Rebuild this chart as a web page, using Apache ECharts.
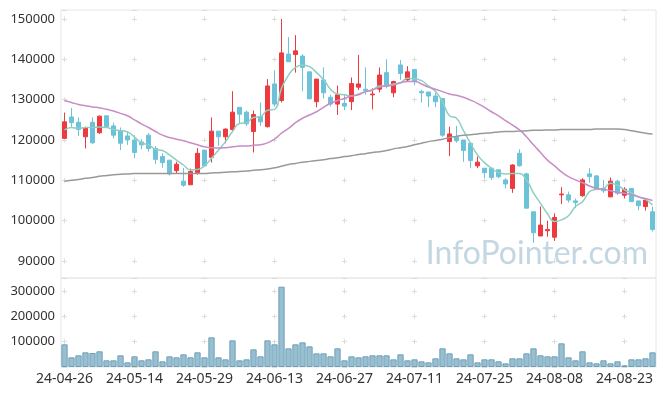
<!DOCTYPE html>
<html>
<head>
<meta charset="utf-8">
<script src="https://cdn.jsdelivr.net/npm/echarts@6/dist/echarts.min.js"></script>
<style>
html,body{margin:0;padding:0;background:#fff;}
#chart{width:665px;height:396px;}
</style>
</head>
<body>
<div id="chart"></div>
<script>
const dates = ['24-04-26','24-04-29','24-04-30','24-05-02','24-05-03','24-05-07','24-05-08','24-05-09','24-05-10','24-05-13',
'24-05-14','24-05-16','24-05-17','24-05-20','24-05-21','24-05-22','24-05-23','24-05-24','24-05-27','24-05-28',
'24-05-29','24-05-30','24-05-31','24-06-03','24-06-04','24-06-05','24-06-07','24-06-10','24-06-11','24-06-12',
'24-06-13','24-06-14','24-06-17','24-06-18','24-06-19','24-06-20','24-06-21','24-06-24','24-06-25','24-06-26',
'24-06-27','24-06-28','24-07-01','24-07-02','24-07-03','24-07-04','24-07-05','24-07-08','24-07-09','24-07-10',
'24-07-11','24-07-12','24-07-15','24-07-16','24-07-17','24-07-18','24-07-19','24-07-22','24-07-23','24-07-24',
'24-07-25','24-07-26','24-07-29','24-07-30','24-07-31','24-08-01','24-08-02','24-08-05','24-08-06','24-08-07',
'24-08-08','24-08-09','24-08-12','24-08-13','24-08-14','24-08-16','24-08-19','24-08-20','24-08-21','24-08-22',
'24-08-23','24-08-26','24-08-27','24-08-28','24-08-29'];

const openP = [120400,125700,124400,120800,124400,121800,126000,123500,122300,121000,
120000,119500,121200,117900,115900,115000,112400,109800,108900,111900,
117500,115700,122200,120800,122600,128100,126900,122100,125800,123300,
133900,129800,141300,141200,140800,136900,129500,134900,130600,128900,
129100,129500,133100,132600,131200,132600,136700,131700,138600,134900,
137500,132000,131900,130900,130300,119600,120800,120000,119200,113600,
113000,113000,112600,110100,108000,116700,111600,102200,96200,97500,
95900,106400,106400,104900,106200,111600,111100,108000,105900,109800,
106300,108000,104900,103500,102200];
const closeP = [124500,124300,122600,123000,119300,125900,123300,121200,119200,120000,
116900,118800,117900,115200,114400,111600,114000,108800,112200,116700,
113600,122200,120800,122700,126900,126400,124000,126300,124500,133400,
128900,141600,139400,142100,138000,130200,135100,131700,128900,131200,
128400,134000,133900,132300,131400,136100,133400,134500,136500,136900,
134500,131700,130900,129500,121200,121500,119800,117400,114900,114500,
111900,110700,110900,109100,113800,113600,103100,97000,98900,97800,
100800,106600,105100,104500,110100,110900,107800,107400,109800,106800,
107800,104700,103700,105100,97800];
const lowP = [120400,123100,121000,117900,119000,121500,123100,120400,117500,118800,
115500,117700,117100,114000,113100,111200,111700,108400,108900,111400,
113400,114400,118500,119200,122300,124000,123500,116900,123500,123100,
128300,129300,139400,136700,132100,130200,128100,130300,128300,126200,
127400,127400,132400,131200,127600,131800,132800,130600,134900,134500,
133600,129300,128100,128100,120800,116000,119300,114600,113000,113000,
110500,110100,110500,108000,106900,113400,103100,94500,96200,96000,
95000,104100,104500,103100,105900,109400,107600,106900,105800,106400,
105500,104700,102600,102500,97300];
const highP = [126800,127900,125600,123300,125600,126100,126000,124300,123100,122100,
121200,120200,121700,118500,116700,115000,114600,113100,112900,118000,
117500,125600,122200,122900,132100,128100,127300,127300,129300,135100,
137300,150000,145500,146000,141300,136900,135100,138000,131200,133500,
131200,135500,141100,138000,132800,138000,140000,134700,139800,138300,
137500,132400,131900,131700,130300,123300,123500,120000,119200,115900,
113000,113000,112600,110500,114000,117700,111900,102200,103500,100000,
101800,108300,107200,105500,110500,113000,111300,110100,110700,110100,
108300,108000,104900,105500,103500];
const volume = [89700,38300,46200,58000,55300,62000,26400,26400,46200,18400,
42200,26400,30300,62000,22400,42200,38300,50100,38300,58000,
38300,117300,38300,30300,105400,26400,30300,69800,42200,105400,
89700,317600,73800,89700,97500,81700,54000,54000,42200,73800,
26400,42200,38300,42200,46200,46200,46200,30300,50100,26400,
30300,22400,18400,34300,73800,54000,34300,30300,50100,18400,
30300,30300,22400,14500,34300,34300,54000,73800,46200,42200,
42200,93600,38300,26400,62000,18400,14500,26400,14500,22400,
6600,30300,30300,34300,58000];
const ma5 = [122500,123100,122900,123100,123100,123200,123100,122600,122300,122000,
120700,119300,118800,117700,117400,116300,115000,113800,112600,112700,
113600,115500,117500,119600,122100,124100,124300,125600,125800,127400,
127600,132800,136100,138000,138600,138200,136700,135000,132600,131400,
131200,130900,131400,132000,132400,133400,133400,133900,134200,135300,
135200,134700,133400,132000,129500,126000,125400,122300,119200,116300,
114400,113000,111900,111600,111700,111700,110100,106900,104300,101700,
99800,100200,101200,103500,104700,107200,107800,108000,109300,108800,
107600,106900,105900,105300,103900];
const ma20 = [129800,129300,128800,128500,128200,128000,127600,127200,126600,126000,
125000,124000,123100,122100,121200,120600,120200,119800,119300,118800,
118300,118100,118000,118100,118300,118500,118500,118700,118800,119300,
120200,121700,122900,124300,125400,126200,127000,128100,129100,129800,
130300,130900,131200,132000,132400,133100,133400,133600,134200,134500,
134500,133900,133100,132600,132000,131400,131100,130600,129900,129100,
128100,127000,126000,124800,123700,122500,120800,118800,116900,115000,
113600,112100,110900,110100,109400,108600,108000,107800,107400,107000,
106800,106400,105900,105500,105000];
const ma120 = [109800,110000,110200,110500,110700,111000,111200,111400,111500,111600,
111700,111700,111700,111700,111700,111700,111700,111700,111700,111700,
111700,111800,111900,112000,112100,112200,112300,112500,112600,112800,
113100,113500,113900,114200,114500,114700,114900,115100,115400,115600,
115900,116100,116400,116600,116900,117100,117400,117800,118100,118400,
118800,119200,119600,119900,120200,120600,120900,121200,121300,121500,
121700,121800,122000,122100,122100,122200,122300,122400,122400,122500,
122500,122600,122600,122600,122600,122600,122700,122700,122700,122700,
122600,122300,122000,121700,121500];
const priceTicks = [90000,100000,110000,120000,130000,140000,150000];
const volTicks = [100000,200000,300000];

// ---- layout / styling ----
const W = 665, gLeft = 61, gRight = 9;
const gridW = W - gLeft - gRight;
const g0Top = 10, g0H = 268, g1Top = 278, g1H = 89;
const yMin = 85785, yMax = 152231;
const vMax = 352000;
const arm = 5;
const cw = gridW / dates.length;
const hPeriod = cw * 10;
const hOffset = hPeriod - (cw / 2 - arm / 2);
const pStep = 10000 * g0H / (yMax - yMin);
const pFirst = (yMax - priceTicks[priceTicks.length - 1]) * g0H / (yMax - yMin);
const pOffset = pStep - (pFirst - arm / 2);
const vStep = 100000 * g1H / vMax;
const vFirst = (vMax - volTicks[volTicks.length - 1]) * g1H / vMax;
const vOffset = vStep - (vFirst - arm / 2);
const gridColor = '#dcdcdc';
const font = '"Noto Sans", sans-serif';

const candles = dates.map((d, i) => [openP[i], closeP[i], lowP[i], highP[i]]);

const chart = echarts.init(document.getElementById('chart'), null, {renderer: 'canvas'});
chart.setOption({
  animation: false,
  backgroundColor: '#fff',
  graphic: [{
    type: 'text', right: 17, top: 238, z: 0, silent: true,
    style: { text: 'InfoPointer.com', fill: '#c3d7e2', font: '32px Lato, sans-serif' }
  }],
  grid: [
    { left: gLeft, right: gRight, top: g0Top, height: g0H, show: true, borderColor: '#e6e6e6', borderWidth: 1 },
    { left: gLeft, right: gRight, top: g1Top, height: g1H, show: true, borderColor: '#e6e6e6', borderWidth: 1 }
  ],
  xAxis: [
    { type: 'category', gridIndex: 0, data: dates, boundaryGap: true,
      axisLine: {show: false}, axisTick: {show: false}, axisLabel: {show: false},
      splitLine: {show: true, interval: 9, alignWithLabel: true,
        lineStyle: {color: gridColor, width: 1, type: [arm, pStep - arm], dashOffset: pOffset}} },
    { type: 'category', gridIndex: 1, data: dates, boundaryGap: true,
      axisLine: {show: false}, axisTick: {show: false},
      axisLabel: {show: true, interval: 9, fontSize: 14, color: '#333', margin: 5, fontFamily: font},
      splitLine: {show: true, interval: 9, alignWithLabel: true,
        lineStyle: {color: gridColor, width: 1, type: [arm, vStep - arm], dashOffset: vOffset}} }
  ],
  yAxis: [
    { type: 'value', gridIndex: 0, min: yMin, max: yMax, splitNumber: 5, scale: true,
      axisLine: {show: false}, axisTick: {show: false},
      axisLabel: {fontSize: 13, color: '#333', margin: 6, fontFamily: font,
        formatter: v => priceTicks.indexOf(Math.round(v)) >= 0 ? String(Math.round(v)) : ''},
      splitLine: {show: true, lineStyle: {color: gridColor, width: 1, type: [arm, hPeriod - arm], dashOffset: hOffset}} },
    { type: 'value', gridIndex: 1, min: 0, max: vMax, interval: 100000,
      axisLine: {show: false}, axisTick: {show: false},
      axisLabel: {fontSize: 13, color: '#333', margin: 6, fontFamily: font,
        formatter: v => volTicks.indexOf(Math.round(v)) >= 0 ? String(Math.round(v)) : ''},
      splitLine: {show: true, lineStyle: {color: gridColor, width: 1, type: [arm, hPeriod - arm], dashOffset: hOffset}} }
  ],
  series: [
    { type: 'candlestick', xAxisIndex: 0, yAxisIndex: 0, data: candles, barWidth: 5,
      itemStyle: {color: '#ec3a3e', color0: '#6cc2d8', borderColor: '#ec3a3e', borderColor0: '#6cc2d8', borderWidth: 1} },
    { type: 'line', xAxisIndex: 0, yAxisIndex: 0, data: ma5, showSymbol: false, smooth: true,
      lineStyle: {color: '#8dcfc1', width: 1.5} },
    { type: 'line', xAxisIndex: 0, yAxisIndex: 0, data: ma20, showSymbol: false, smooth: true,
      lineStyle: {color: '#c98dc6', width: 1.5} },
    { type: 'line', xAxisIndex: 0, yAxisIndex: 0, data: ma120, showSymbol: false, smooth: true,
      lineStyle: {color: '#999999', width: 1.5} },
    { type: 'bar', xAxisIndex: 1, yAxisIndex: 1, data: volume, barCategoryGap: '10%',
      itemStyle: {color: '#98bfd1', borderColor: '#6e9fb8', borderWidth: 1} }
  ]
});
</script>
</body>
</html>
